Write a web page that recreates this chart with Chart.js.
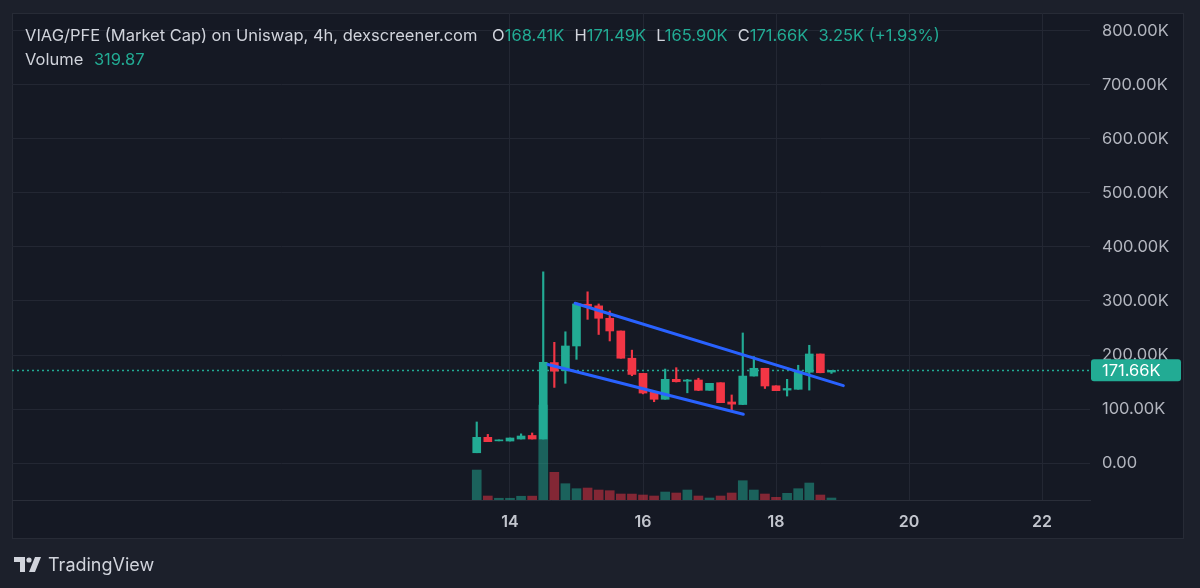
<!DOCTYPE html>
<html>
<head>
<meta charset="utf-8">
<script src="https://cdn.jsdelivr.net/npm/chart.js@4"></script>
<style>
html,body{margin:0;padding:0;width:1200px;height:588px;overflow:hidden;background:#1c202b;font-family:Inter,'Liberation Sans',sans-serif}
#frame{position:absolute;left:12px;top:13px;width:1172px;height:526px;background:#151924;border:1px solid #272b36;box-sizing:border-box}
#c{position:absolute;left:0;top:0}
#legend{position:absolute;left:25px;top:23px;color:#d1d4dc;font-size:16.5px;line-height:24px;white-space:nowrap}
#legend .v{color:#22ab94}
#legend .g{margin-left:10px}
#brand{position:absolute;left:14px;top:552px;height:24px;display:flex;align-items:center;color:#d1d4dc;font-size:18px}
#brand svg{margin-right:7px}
</style>
</head>
<body>
<div id="frame"></div>
<canvas id="c" width="1200" height="588"></canvas>
<div id="legend">
  <div>VIAG/PFE (Market Cap) on Uniswap, 4h, dexscreener.com <span class="g">O<span class="v" id="lo"></span></span><span class="g">H<span class="v" id="lh"></span></span><span class="g">L<span class="v" id="ll"></span></span><span class="g">C<span class="v" id="lc"></span></span><span class="g v" id="lchg"></span></div>
  <div>Volume <span class="v" id="lvol" style="margin-left:6px"></span></div>
</div>
<div id="brand">
  <svg width="27" height="15" viewBox="0 0 27 15"><path d="M0 0h11v15h-5v-10h-6z" fill="#d1d4dc"/><circle cx="15" cy="3" r="2.6" fill="#d1d4dc"/><path d="M21 0h6l-6 15h-6z" fill="#d1d4dc"/></svg>
  <span>TradingView</span>
</div>
<script>
// candle times, hours from day 14 00:00 (4h candles)
const hours = [-12,-8,-4,0,4,8,12,16,20,24,28,32,36,40,44,48,52,56,60,64,68,72,76,80,84,88,92,96,100,104,108,112,116]

// OHLC in thousands
const open  = [19.0,47.6,41.0,40.7,44.4,51.0,44.4,186.0,171.0,216.7,294.0,291.0,268.0,244.5,194.0,166.0,131.0,118.0,155.0,151.5,153.7,134.6,148.7,113.0,108.3,161.0,175.4,143.0,135.0,136.5,168.0,201.9,168.41]
const high  = [76.0,53.0,42.5,46.3,54.0,55.6,354.0,223.5,243.0,296.0,317.0,294.5,281.5,244.5,209.0,166.0,131.0,174.0,176.5,155.0,157.0,147.6,148.7,126.0,240.8,197.0,175.4,143.0,155.0,181.0,218.0,201.9,171.49]
const low   = [19.0,39.5,41.0,40.7,44.4,44.4,44.4,140.0,147.6,192.0,266.0,238.0,226.0,194.0,161.6,128.0,113.5,118.0,150.0,130.0,134.0,134.6,111.7,97.0,108.0,161.0,138.0,134.0,124.0,136.5,135.0,167.0,165.90]
const close = [47.6,39.5,42.5,46.3,50.0,44.4,186.5,170.0,216.7,294.5,290.0,268.0,244.5,194.0,164.0,129.5,118.0,155.0,150.5,153.7,134.6,147.6,111.7,109.0,161.0,175.4,142.6,134.0,138.0,170.4,201.9,167.2,171.66]
const volume = [4800,640,280,280,600,620,15200,4430,2610,1810,1920,1600,1490,960,950,800,640,1280,1120,1600,640,320,640,1120,3090,1600,960,430,1070,1810,2720,800,319.87]

// drawn trend lines [hours, value in K]
const trendUpper = [[23.5,295.8],[120.3,143.2]]
const trendLower = [[13.7,182.4],[84.2,90.2]]

// axes
const yTicks = [0,100,200,300,400,500,600,700,800]
const xTickHours = [0,48,96,144,192]
const xTickLabels = ['14','16','18','20','22']

const UP = '#22ab94', DOWN = '#f23645'
const UP_VOL = 'rgba(34,171,148,0.5)', DOWN_VOL = 'rgba(242,54,69,0.5)'

function el(id){ return document.getElementById(id) }

// legend text
const n = close.length - 1
const fmtK = v => v.toFixed(2) + 'K'
el('lo').textContent = fmtK(open[n])
el('lh').textContent = fmtK(high[n])
el('ll').textContent = fmtK(low[n])
el('lc').textContent = fmtK(close[n])
const chg = close[n] - open[n]
el('lchg').textContent = fmtK(chg) + ' (' + (chg >= 0 ? '+' : '') + (chg / open[n] * 100).toFixed(2) + '%)'
el('lvol').textContent = volume[n].toFixed(2)

const isUp = close.map((c, i) => c >= open[i])

const lastPrice = {
  id: 'lastPrice',
  beforeDatasetsDraw(chart) {
    const {ctx, chartArea} = chart
    const y = Math.round(chart.scales.y.getPixelForValue(close[n])) + 0.5
    ctx.save()
    ctx.strokeStyle = UP
    ctx.lineWidth = 1.5
    ctx.setLineDash([2, 3])
    ctx.beginPath(); ctx.moveTo(chartArea.left, y); ctx.lineTo(chartArea.right, y); ctx.stroke()
    ctx.restore()
  },
  afterDraw(chart) {
    const {ctx, chartArea} = chart
    const y = chart.scales.y.getPixelForValue(close[n])
    ctx.save()
    ctx.fillStyle = UP
    ctx.beginPath()
    ctx.roundRect(chartArea.right + 1, y - 11, 90, 22, 3)
    ctx.fill()
    ctx.fillStyle = '#ffffff'
    ctx.font = '16.5px Inter, "Liberation Sans", sans-serif'
    ctx.textBaseline = 'middle'
    ctx.fillText(fmtK(close[n]), chartArea.right + 12, y + 1)
    ctx.restore()
  }
}

new Chart(el('c').getContext('2d'), {
  type: 'bar',
  data: {
    datasets: [
      {
        label: 'volume', yAxisID: 'yv', order: 4, grouped: false, barThickness: 9,
        data: hours.map((h, i) => ({x: h, y: volume[i]})),
        backgroundColor: isUp.map(u => u ? UP_VOL : DOWN_VOL)
      },
      {
        label: 'wick', yAxisID: 'y', order: 3, grouped: false, barThickness: 1.5, minBarLength: 1,
        data: hours.map((h, i) => ({x: h, y: [low[i], high[i]]})),
        backgroundColor: isUp.map(u => u ? UP : DOWN)
      },
      {
        label: 'body', yAxisID: 'y', order: 2, grouped: false, barThickness: 8, minBarLength: 1,
        data: hours.map((h, i) => ({x: h, y: [open[i], close[i]]})),
        backgroundColor: isUp.map(u => u ? UP : DOWN)
      },
      {
        type: 'line', label: 'upper', yAxisID: 'y', order: 1,
        data: trendUpper.map(p => ({x: p[0], y: p[1]})),
        borderColor: '#2962ff', borderWidth: 3, pointRadius: 0, borderCapStyle: 'round'
      },
      {
        type: 'line', label: 'lower', yAxisID: 'y', order: 1,
        data: trendLower.map(p => ({x: p[0], y: p[1]})),
        borderColor: '#2962ff', borderWidth: 3, pointRadius: 0, borderCapStyle: 'round'
      }
    ]
  },
  options: {
    responsive: false,
    animation: false,
    devicePixelRatio: 1,
    layout: { padding: { left: 12, top: 13, right: 15, bottom: 48 } },
    plugins: { legend: { display: false }, tooltip: { enabled: false } },
    scales: {
      x: {
        type: 'linear', min: -179.7, max: 209.3, offset: false,
        afterBuildTicks: s => { s.ticks = xTickHours.map(v => ({value: v})) },
        afterFit: s => { s.height = 40; s.paddingLeft = 0; s.paddingRight = 0 },
        grid: { color: '#232733', offset: false, drawTicks: false },
        border: { color: '#2a2e39' },
        ticks: {
          padding: 13, color: '#c3c6ce', maxRotation: 0, autoSkip: false,
          font: { family: 'Inter, "Liberation Sans", sans-serif', size: 16, weight: '600' },
          callback: v => xTickLabels[xTickHours.indexOf(v)]
        }
      },
      y: {
        position: 'right', min: -68.5, max: 833.3,
        afterBuildTicks: s => { s.ticks = yTicks.map(v => ({value: v})) },
        afterFit: s => { s.width = 95; s.paddingTop = 0; s.paddingBottom = 0 },
        grid: { color: '#232733', drawTicks: false },
        border: { display: false },
        ticks: {
          padding: 12, color: '#b2b5be',
          font: { family: 'Inter, "Liberation Sans", sans-serif', size: 16.5 },
          callback: v => v === 0 ? '0.00' : v.toFixed(2) + 'K'
        }
      },
      yv: { display: false, min: 0, max: 78000 }
    }
  },
  plugins: [lastPrice]
})
</script>
</body>
</html>
